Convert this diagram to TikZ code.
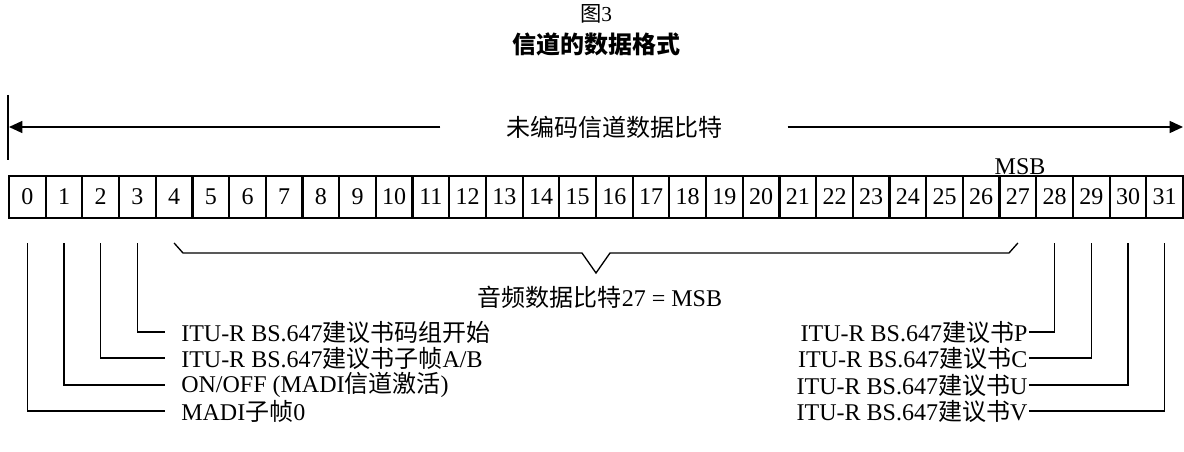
\documentclass[tikz,border=0pt]{standalone}
\usepackage{fontspec}
\setmainfont{Liberation Serif}
\newfontfamily\zhfont{Noto Sans CJK SC}
\newcommand{\zh}[1]{{\zhfont #1}}
\usetikzlibrary{arrows.meta}

\tikzset{
	bitbox/.style={draw, line width=1.6pt, minimum width=27.5pt, minimum height=31.5pt, inner sep=0pt, font=\fontsize{18}{20}\selectfont},
	txt/.style={font=\fontsize{18}{20}\selectfont},
	leftlbl/.style={txt, anchor=west, inner xsep=12pt, inner ysep=0pt},
	rightlbl/.style={txt, anchor=east, inner xsep=1pt, inner ysep=0pt},
	link/.style={line width=1pt, shorten <=18pt},
	arr/.style={line width=1pt, -{Triangle[length=10pt,width=9pt]}}
}

\begin{document}
\begin{tikzpicture}[x=0.75pt, y=-0.75pt]

		\useasboundingbox (0,0) rectangle (1184,452);

		\node[font=\fontsize{16}{18}\selectfont] (fig) at (596,14) {\zh{图}3};
		\node[font=\fontsize{18}{20}\selectfont\bfseries] (title) at (596,44) {\zh{信道的数据格式}};

		\draw[line width=1pt] (8,95) -- (8,160);
		\node[txt, inner xsep=49pt] (whole) at (614,127) {\zh{未编码信道数据比特}};
		\coordinate (wl) at (9,127);
		\coordinate (wr) at (1183,127);
		\draw[arr] (whole) -- (wl);
		\draw[arr] (whole) -- (wr);

		\node[bitbox] (b0) at (27.3,197) {0};
		\node[bitbox] (b1) at (64.0,197) {1};
		\node[bitbox] (b2) at (100.7,197) {2};
		\node[bitbox] (b3) at (137.4,197) {3};
		\node[bitbox] (b4) at (174.1,197) {4};
		\node[bitbox] (b5) at (210.8,197) {5};
		\node[bitbox] (b6) at (247.5,197) {6};
		\node[bitbox] (b7) at (284.2,197) {7};
		\node[bitbox] (b8) at (320.8,197) {8};
		\node[bitbox] (b9) at (357.5,197) {9};
		\node[bitbox] (b10) at (394.2,197) {10};
		\node[bitbox] (b11) at (430.9,197) {11};
		\node[bitbox] (b12) at (467.6,197) {12};
		\node[bitbox] (b13) at (504.3,197) {13};
		\node[bitbox] (b14) at (541.0,197) {14};
		\node[bitbox] (b15) at (577.7,197) {15};
		\node[bitbox] (b16) at (614.3,197) {16};
		\node[bitbox] (b17) at (651.0,197) {17};
		\node[bitbox] (b18) at (687.7,197) {18};
		\node[bitbox] (b19) at (724.4,197) {19};
		\node[bitbox] (b20) at (761.1,197) {20};
		\node[bitbox] (b21) at (797.8,197) {21};
		\node[bitbox] (b22) at (834.5,197) {22};
		\node[bitbox] (b23) at (871.2,197) {23};
		\node[bitbox] (b24) at (907.8,197) {24};
		\node[bitbox] (b25) at (944.5,197) {25};
		\node[bitbox] (b26) at (981.2,197) {26};
		\node[bitbox] (b27) at (1017.9,197) {27};
		\node[bitbox] (b28) at (1054.6,197) {28};
		\node[bitbox] (b29) at (1091.3,197) {29};
		\node[bitbox] (b30) at (1128.0,197) {30};
		\node[bitbox] (b31) at (1164.7,197) {31};

		\node[txt, anchor=south, inner sep=1pt] (msb) at (1020,176) {MSB};

		% audio bits 4..27
		\draw[line width=1pt] (174.1,243) -- (183,253) -- (582,253) -- (596,273) -- (610,253) -- (1009,253) -- (1017.9,243);
		\node[txt] (audio) at (600,297) {\zh{音频数据比特}27 = MSB};

		\node[leftlbl] (l3) at (165,332) {ITU-R BS.647\zh{建议书码组开始}};
		\node[leftlbl] (l2) at (165,358) {ITU-R BS.647\zh{建议书子帧}A/B};
		\node[leftlbl] (l1) at (165,385) {ON/OFF (MADI\zh{信道激活})};
		\node[leftlbl] (l0) at (165,411) {MADI\zh{子帧}0};

		\node[rightlbl] (l28) at (1029,332) {ITU-R BS.647\zh{建议书}P};
		\node[rightlbl] (l29) at (1029,358) {ITU-R BS.647\zh{建议书}C};
		\node[rightlbl] (l30) at (1029,385) {ITU-R BS.647\zh{建议书}U};
		\node[rightlbl] (l31) at (1029,411) {ITU-R BS.647\zh{建议书}V};

		\draw[link] (b3.south) |- (l3.west);
		\draw[link] (b2.south) |- (l2.west);
		\draw[link] (b1.south) |- (l1.west);
		\draw[link] (b0.south) |- (l0.west);

		\draw[link] (b28.south) |- (l28.east);
		\draw[link] (b29.south) |- (l29.east);
		\draw[link] (b30.south) |- (l30.east);
		\draw[link] (b31.south) |- (l31.east);

	\end{tikzpicture}
\end{document}
